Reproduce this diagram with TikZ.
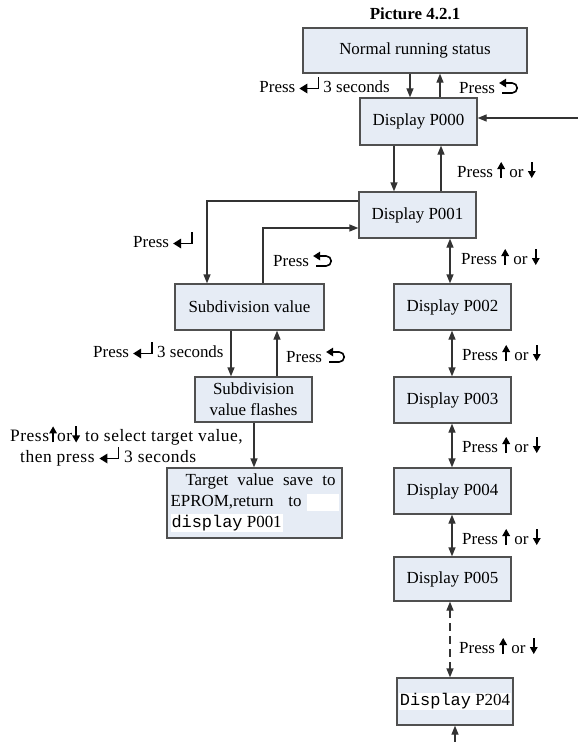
\documentclass[tikz,border=0pt]{standalone}
\usepackage{fontspec}
\setmainfont{Liberation Serif}
\newfontfamily\monofont{Liberation Mono}
\newfontfamily\wideserif[LetterSpace=3]{Liberation Serif}
\usetikzlibrary{arrows.meta}
\definecolor{boxfill}{HTML}{E6ECF5}
\definecolor{linecol}{HTML}{333333}
\definecolor{boxline}{HTML}{505050}
\newcommand{\boxfont}{\fontsize{17}{21}\selectfont}
\newcommand{\lblfont}{\fontsize{17}{20}\selectfont}
\newcommand{\kenter}{\tikz[baseline=0pt,x=1bp,y=1bp]{\draw[line width=1.6bp,black] (19,15) -- (19,3.5) -- (6,3.5); \fill[black] (0,3.5) -- (8,8.5) -- (8,-1.5) -- cycle;}}
\newcommand{\kback}{\tikz[baseline=0pt,x=1bp,y=1bp]{\fill[black] (0,10) -- (7,14.5) -- (7,5.5) -- cycle; \draw[line width=1.6bp,black] (6,10) -- (13,10) arc[start angle=90,end angle=-90,radius=5] -- (3,0);}}
\newcommand{\kup}{\tikz[baseline=0pt,x=1bp,y=1bp]{\draw[line width=2bp,black] (4,-1) -- (4,9); \fill[black] (0,8) -- (4,15) -- (8,8) -- cycle;}}
\newcommand{\kdown}{\tikz[baseline=0pt,x=1bp,y=1bp]{\draw[line width=2bp,black] (4,15) -- (4,5); \fill[black] (0,6) -- (4,-1) -- (8,6) -- cycle;}}
\tikzset{
  box/.style={draw=boxline, fill=boxfill, line width=1.3bp, inner sep=0pt, font=\boxfont, minimum width=117bp, minimum height=46bp},
  lbl/.style={font=\lblfont, inner sep=0pt},
  arr/.style={draw=linecol, line width=1.3bp, -{Triangle[length=9bp,width=7bp]}},
  darr/.style={draw=linecol, line width=1.3bp, {Triangle[length=9bp,width=7bp]}-{Triangle[length=9bp,width=7bp]}},
  dsharr/.style={darr, dash pattern=on 8bp off 5bp}
}
\begin{document}
\begin{tikzpicture}[x=1bp,y=-1bp]
\useasboundingbox (0,0) rectangle (578,742);
\fill[white] (0,0) rectangle (578,742);
% title
\node[lbl, font=\fontsize{17}{20}\selectfont\bfseries, anchor=base] (title) at (415,20) {Picture 4.2.1};
% boxes
\node[box, minimum width=224bp, minimum height=45bp] (normal) at (415,50.5) {Normal running status};
\node[box, minimum height=47bp] (p000) at (418.5,121.5) {Display P000};
\node[box] (p001) at (417.5,215) {Display P001};
\node[box, minimum width=149bp] (sub) at (249.5,307) {Subdivision value};
\node[box, minimum height=45bp, align=center] (flash) at (253.5,399.5) {Subdivision\\value flashes};
\node[box, minimum width=175bp, minimum height=70bp, align=left] (target) at (254.5,503)
  {\hspace*{15bp}\makebox[150bp][s]{Target value save to}\\
   \makebox[131bp][s]{EPROM,return to}\hspace{5bp}\textcolor{white}{\rule[-4bp]{32bp}{17bp}}\\
   \setlength{\fboxsep}{1bp}\colorbox{white}{{\monofont display} P001}};
\node[box] (p002) at (452.5,307) {Display P002};
\node[box] (p003) at (452.5,400) {Display P003};
\node[box] (p004) at (452.5,491) {Display P004};
\node[box, minimum height=44bp] (p005) at (452.5,579) {Display P005};
\node[box, minimum width=116bp, minimum height=47bp] (p204) at (455,701.5) {\setlength{\fboxsep}{1bp}\colorbox{white}{{\monofont Display} P204}};
% free ends
\coordinate (rin) at (578,118);
\coordinate (bin) at (455,742);
% connectors
\draw[arr] (normal.south -| 410,0) -- (p000.north -| 410,0);
\draw[arr] (p000.north -| 440,0) -- (normal.south -| 440,0);
\draw[arr] (rin) -- (p000.east |- rin);
\draw[arr] (p000.south -| 394,0) -- (p001.north -| 394,0);
\draw[arr] (p001.north -| 441,0) -- (p000.south -| 441,0);
\draw[arr] (p001.west |- 0,201) -- (207,201) -- (sub.north -| 207,0);
\draw[arr] (sub.north -| 263,0) -- (263,228) -- (p001.west |- 0,228);
\draw[arr] (sub.south -| 231,0) -- (flash.north -| 231,0);
\draw[arr] (flash.north -| 277,0) -- (sub.south -| 277,0);
\draw[arr] (flash.south -| 254,0) -- (target.north -| 254,0);
\draw[darr] (p001.south -| 450,0) -- (p002.north -| 450,0);
\draw[darr] (p002.south -| 452,0) -- (p003.north -| 452,0);
\draw[darr] (p003.south -| 452,0) -- (p004.north -| 452,0);
\draw[darr] (p004.south -| 452,0) -- (p005.north -| 452,0);
\draw[dsharr] (p005.south -| 450,0) -- (p204.north -| 450,0);
\draw[arr] (bin) -- (p204.south -| bin);
% labels
\node[lbl, anchor=base east] (l1) at (390,92) {Press \kenter\ 3 seconds};
\node[lbl, anchor=base west] (l2) at (459,93) {Press \kback};
\node[lbl, anchor=base west] (l3) at (457,177) {Press \kup\ or \kdown};
\node[lbl, anchor=base west] (l4) at (133,247) {Press \kenter};
\node[lbl, anchor=base west] (l5) at (273,266) {Press \kback};
\node[lbl, anchor=base west] (l6) at (93,357) {Press \kenter\ 3 seconds};
\node[lbl, anchor=base west] (l7) at (286,362) {Press \kback};
\node[lbl, anchor=base west, align=left, font=\wideserif\fontsize{17.5}{19.5}\selectfont] (l8) at (10,462)
  {Press\kup or\kdown\ to select target value,\\\hspace*{10bp}then press \kenter\ 3 seconds};
\node[lbl, anchor=base west] (l9) at (461,264) {Press \kup\ or \kdown};
\node[lbl, anchor=base west] (l10) at (462,360) {Press \kup\ or \kdown};
\node[lbl, anchor=base west] (l11) at (462,452) {Press \kup\ or \kdown};
\node[lbl, anchor=base west] (l12) at (462,544) {Press \kup\ or \kdown};
\node[lbl, anchor=base west] (l13) at (459,653) {Press \kup\ or \kdown};
\end{tikzpicture}
\end{document}
